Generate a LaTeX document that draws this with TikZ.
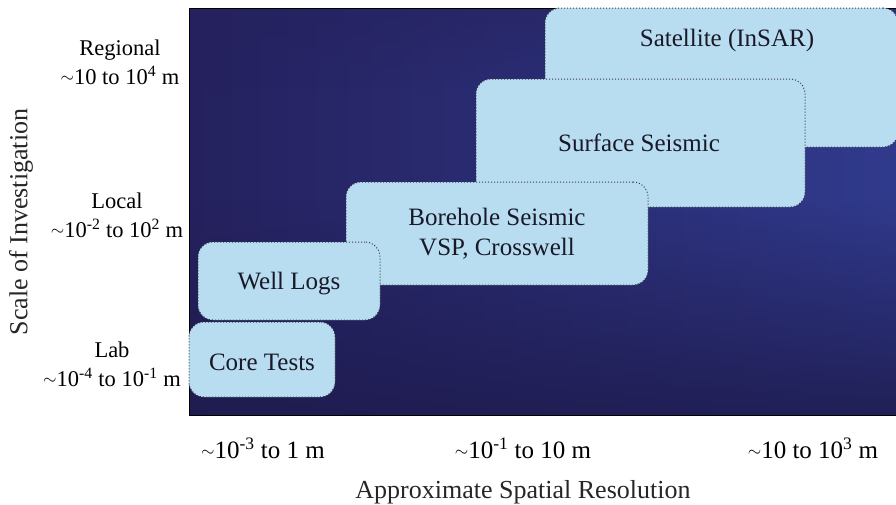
\documentclass[tikz,border=0pt]{standalone}
\usepackage{fontspec}
\setmainfont{Liberation Serif}
\usetikzlibrary{fadings}
\definecolor{bgL}{RGB}{37,33,94}
\definecolor{bgR}{RGB}{48,58,140}
\definecolor{bgB}{RGB}{30,27,78}
\definecolor{boxfill}{RGB}{184,220,240}
\definecolor{boxline}{RGB}{60,60,72}
\definecolor{boxtxt}{RGB}{25,25,40}
\newcommand{\tld}{\raisebox{2pt}{\fontsize{17}{17}\selectfont$\sim$}}
\tikzset{
  mbox/.style={draw=boxline, dotted, line width=1pt, fill=boxfill, rounded corners=15pt, inner sep=0pt},
  boxtext/.style={text=boxtxt, font=\rmfamily\fontsize{25}{30}\selectfont, align=center, inner sep=0pt},
  sidetext/.style={text=black, font=\rmfamily\fontsize{22.5}{29}\selectfont, align=center, inner sep=0pt},
  axtext/.style={text=black, font=\rmfamily\fontsize{25}{30}\selectfont, inner sep=0pt},
  axtitle/.style={text=black!85, font=\rmfamily\fontsize{26}{30}\selectfont, inner sep=0pt}
}
\begin{document}
\begin{tikzpicture}[x=1pt,y=-1pt]
\useasboundingbox (0,0) rectangle (896,504);
% background panel
\shade[left color=bgL, right color=bgR] (189,8) rectangle (896,415);
\fill[bgB, path fading=north, opacity=0.85] (189,200) rectangle (896,415);
\fill[bgL, path fading=south, opacity=0.5] (189,8) rectangle (896,90);
\draw[black, line width=0.8pt] (896,8) -- (189,8) -- (189,415) -- (896,415);
% boxes
\node[mbox, minimum width=353, minimum height=139] (sat) at (721.5,77.5) {};
\node[boxtext] (satl) at (727,40) {Satellite (InSAR)};
\node[mbox, minimum width=329, minimum height=128] (surf) at (640.5,143) {};
\node[boxtext] (surfl) at (639,143) {Surface Seismic};
\node[mbox, minimum width=302, minimum height=103] (bore) at (497,233.5) {};
\node[boxtext] (borel) at (497,234) {Borehole Seismic\\VSP, Crosswell};
\node[mbox, minimum width=182, minimum height=78] (well) at (289,281) {};
\node[boxtext] (welll) at (289,284) {Well Logs};
\node[mbox, minimum width=146, minimum height=75] (core) at (262,359.5) {};
\node[boxtext] (corel) at (262,362) {Core Tests};
% side labels
\node[sidetext] (reg) at (120,62) {Regional\\\tld10 to 10\textsuperscript{4} m};
\node[sidetext] (loc) at (117,215) {Local\\\tld10\textsuperscript{-2} to 10\textsuperscript{2} m};
\node[sidetext] (lab) at (112,364) {Lab\\\tld10\textsuperscript{-4} to 10\textsuperscript{-1} m};
\node[axtitle, rotate=90] (ytitle) at (21,222) {Scale of Investigation};
% bottom labels
\node[axtext] (x1) at (263,448) {\tld10\textsuperscript{-3} to 1 m};
\node[axtext] (x2) at (523,448) {\tld10\textsuperscript{-1} to 10 m};
\node[axtext] (x3) at (813,448) {\tld10 to 10\textsuperscript{3} m};
\node[axtitle] (xtitle) at (523,492) {Approximate Spatial Resolution};
\end{tikzpicture}
\end{document}
